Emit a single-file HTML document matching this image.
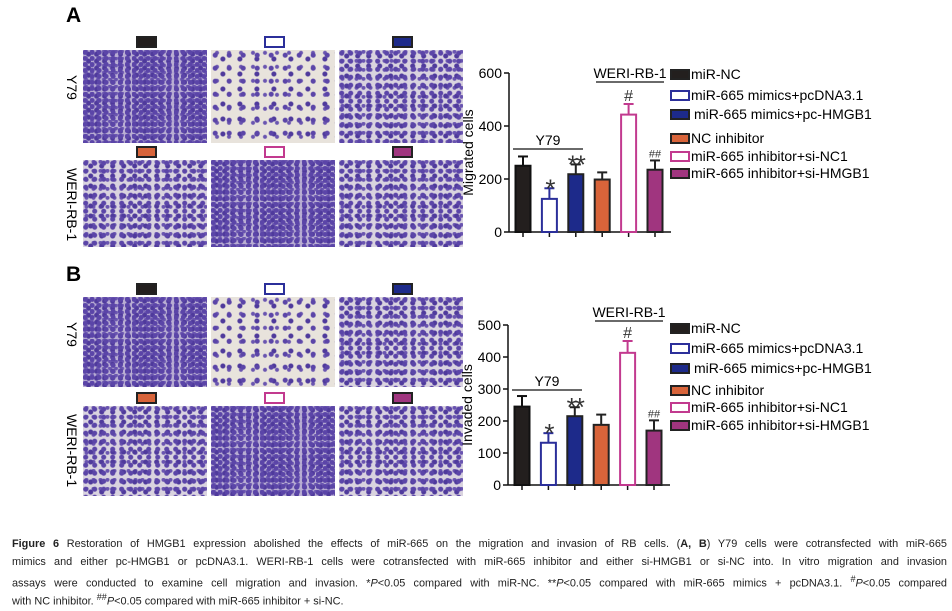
<!DOCTYPE html>
<html><head><meta charset="utf-8"><style>
body{margin:0;width:952px;height:603px;background:#fff;position:relative;overflow:hidden;font-family:"Liberation Sans",sans-serif}
.abs{position:absolute}
.img{position:absolute;background-color:#d9d3df;
background-image:radial-gradient(circle at 30% 40%,#5b45a8 0 2px,transparent 3px),radial-gradient(circle at 70% 60%,#4f3a9c 0 2px,transparent 3px),radial-gradient(circle at 50% 20%,#6a55b0 0 1.5px,transparent 2.5px);
background-size:9px 8px,11px 10px,7px 9px}
.sparse{background-color:#e8e3dc;background-size:14px 13px,17px 15px,12px 14px}
.dense{background-color:#b9aed3;background-size:7px 6px,8px 7px,6px 7px}
.sw{position:absolute;width:17px;height:8px;border:2px solid #222;box-sizing:content-box}
.lab{position:absolute;font-size:14px;transform:rotate(90deg);transform-origin:left top;white-space:nowrap}
.caption{position:absolute;left:12px;top:536px;width:935px;font-size:10.9px;line-height:17.6px;color:#222}
.caption div{text-align:justify;text-align-last:justify;white-space:nowrap;overflow:visible}
.caption div.last{text-align-last:left}
</style></head><body>
<div class="abs" style="left:66px;top:4px;font-size:21px;font-weight:bold">A</div>
<div class="abs" style="left:66px;top:263px;font-size:21px;font-weight:bold">B</div>
<div id="imgs"></div>
<svg id="chart" class="abs" style="left:0;top:0" width="952" height="530"></svg>
<div class="caption">
<div style="white-space:normal;height:17.6px;overflow:hidden"><b>Figure 6</b> Restoration of HMGB1 expression abolished the effects of miR-665 on the migration and invasion of RB cells. (<b>A, B</b>) Y79 cells were cotransfected with miR-665</div>
<div style="white-space:normal;height:17.6px;overflow:hidden">mimics and either pc-HMGB1 or pcDNA3.1. WERI-RB-1 cells were cotransfected with miR-665 inhibitor and either si-HMGB1 or si-NC into. In vitro migration and invasion</div>
<div style="white-space:normal;height:17.6px;overflow:hidden">assays were conducted to examine cell migration and invasion. *<i>P</i>&lt;0.05 compared with miR-NC. **<i>P</i>&lt;0.05 compared with miR-665 mimics + pcDNA3.1. <sup>#</sup><i>P</i>&lt;0.05 compared</div>
<div class="last">with NC inhibitor. <sup>##</sup><i>P</i>&lt;0.05 compared with miR-665 inhibitor + si-NC.</div>
</div>
<script>
const groups=["miR-NC","miR-665 mimics+pcDNA3.1","miR-665 mimics+pc-HMGB1","NC inhibitor","miR-665 inhibitor+si-NC1","miR-665 inhibitor+si-HMGB1"];
const fills=["#231f1e","#ffffff","#1d2a8a","#d8643a","#ffffff","#a0357f"];
const strokes=["#111","#2b2f9a","#222","#222","#c23a8f","#222"];
const migratedVals=[250,125,218,198,443,235];
const migratedErr=[35,40,37,27,40,35];
const invadedVals=[245,132,215,188,413,170];
const invadedErr=[33,30,28,32,37,32];
const sigA=["","*","**","","#","##"];
const migratedTicks=[0,200,400,600];
const invadedTicks=[0,100,200,300,400,500];

const imgs=document.getElementById('imgs');
const dens=[["dense","sparse",""],["","dense",""]];
[[0,50,93,160,87],[1,297,90,406,90]].forEach(([p,y1,h1,y2,h2])=>{
  [[y1,h1,0],[y2,h2,1]].forEach(([y,h,r])=>{
    for(let c=0;c<3;c++){
      const d=document.createElement('div');
      d.className='img '+dens[r][c];
      d.style.cssText+=`left:${83+c*128}px;top:${y}px;width:124px;height:${h}px`;
      
      
      imgs.appendChild(d);
      const s=document.createElement('div');
      s.className='sw';
      const gi=r*3+c;
      s.style.cssText+=`left:${136+c*128}px;top:${y-14}px;background:${fills[gi]};border-color:${gi==1||gi==4?strokes[gi]:'#222'}`;
      
      
      imgs.appendChild(s);
    }
  });
  const l1=document.createElement('div');l1.className='lab';l1.textContent='Y79';
  l1.style.left='80px';l1.style.top=(y1+25)+'px';
  
  
  imgs.appendChild(l1);
  const l2=document.createElement('div');l2.className='lab';l2.textContent='WERI-RB-1';
  l2.style.left='80px';l2.style.top=(y2+8)+'px';
  
  
  imgs.appendChild(l2);
});

const svg=document.getElementById('chart');
const NS='http://www.w3.org/2000/svg';
function el(t,a,txt){const e=document.createElementNS(NS,t);for(const k in a)e.setAttribute(k,a[k]);if(txt!=null)e.textContent=txt;svg.appendChild(e);return e;}

function chart(cfg){
  const {vals,errs,ticks,max,y0,y1,ax,title,legY,y79Y,weriY}=cfg;
  const ys=v=>y0-(v/max)*(y0-y1);
  const xs=i=>ax+14+i*26.4;
  let e=el('line',{x1:ax,y1:y1,x2:ax,y2:y0,stroke:'#111','stroke-width':1.5});
  
  e=el('line',{x1:ax,y1:y0,x2:ax+162,y2:y0,stroke:'#111','stroke-width':1.5});
  
  ticks.forEach(t=>{
    el('line',{x1:ax-5,y1:ys(t),x2:ax,y2:ys(t),stroke:'#111','stroke-width':1.5});
    e=el('text',{x:ax-7,y:ys(t)+5,'text-anchor':'end','font-size':14},t);
    
  });
  e=el('text',{transform:`translate(${ax-36},${(y0+y1)/2}) rotate(-90)`,'text-anchor':'middle','font-size':14},title);
  
  vals.forEach((v,i)=>{
    const x=xs(i);
    el('line',{x1:x,y1:y0,x2:x,y2:y0+5,stroke:'#111','stroke-width':1.5});
    el('line',{x1:x,y1:ys(v),x2:x,y2:ys(v+errs[i]),stroke:strokes[i],'stroke-width':2});
    el('line',{x1:x-5,y1:ys(v+errs[i]),x2:x+5,y2:ys(v+errs[i]),stroke:strokes[i],'stroke-width':2});
    e=el('rect',{x:x-7.5,y:ys(v),width:15,height:y0-ys(v),fill:fills[i],stroke:strokes[i],'stroke-width':2});
    
    if(sigA[i]){
      const star=sigA[i][0]=='*';
      e=el('text',{x:x,y:ys(v+errs[i])+(star?9:-3),'text-anchor':'middle','font-size':star?26:(sigA[i].length>1?11:16),fill:'#333','letter-spacing':star?-2:0},sigA[i]);
      
    }
  });
  el('line',{x1:ax+4,y1:y79Y,x2:ax+74,y2:y79Y,stroke:'#111','stroke-width':1.2});
  e=el('text',{x:ax+39,y:y79Y-4,'text-anchor':'middle','font-size':14},'Y79');
  
  el('line',{x1:ax+87,y1:weriY,x2:ax+155,y2:weriY,stroke:'#111','stroke-width':1.2});
  e=el('text',{x:ax+121,y:weriY-4,'text-anchor':'middle','font-size':14},'WERI-RB-1');
  
  groups.forEach((g,i)=>{
    const y=legY[i];
    e=el('rect',{x:671,y:y-4,width:18,height:9,fill:fills[i],stroke:i==1||i==4?strokes[i]:'#222','stroke-width':2});
    
    e=el('text',{x:(i==2?694:691),y:y+5,'font-size':14},g);
    
  });
}
chart({vals:migratedVals,errs:migratedErr,ticks:migratedTicks,max:600,y0:232,y1:73,ax:509,title:'Migrated cells',legY:[74,95,114,138,156,173],y79Y:149,weriY:82});
chart({vals:invadedVals,errs:invadedErr,ticks:invadedTicks,max:500,y0:485,y1:325,ax:508,title:'Invaded cells',legY:[328,348,368,390,407,425],y79Y:390,weriY:321});
</script>
</body></html>
